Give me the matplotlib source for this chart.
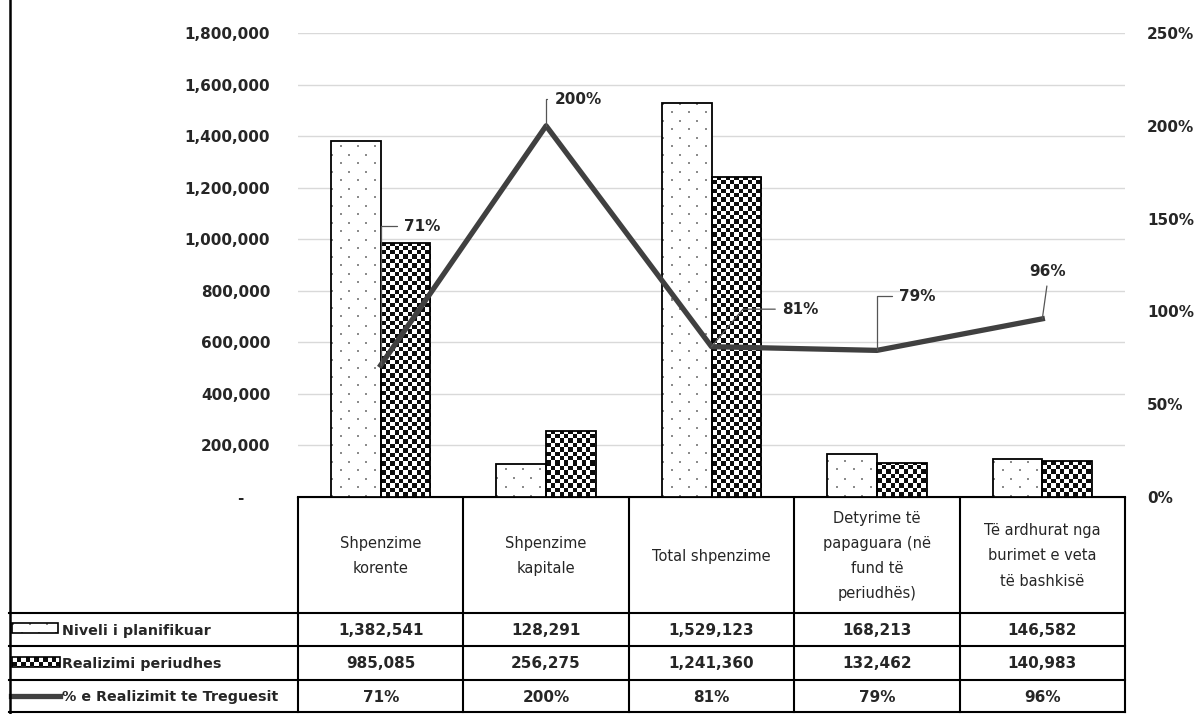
import numpy as np
import matplotlib
matplotlib.use('Agg')
import matplotlib.pyplot as plt
from matplotlib.patches import Rectangle
from matplotlib.lines import Line2D
from matplotlib.ticker import FuncFormatter, MultipleLocator

plt.rcParams['font.family'] = ['DejaVu Sans']

categories = ['Shpenzime\nkorente', 'Shpenzime\nkapitale', 'Total shpenzime',
              'Detyrime të\npapaguara (në\nfund të\nperiudhës)',
              'Të ardhurat nga\nburimet e veta\ntë bashkisë']
planned = [1382541, 128291, 1529123, 168213, 146582]
realized = [985085, 256275, 1241360, 132462, 140983]
pct = [0.71, 2.00, 0.81, 0.79, 0.96]
series_names = ['Niveli i planifikuar', 'Realizimi periudhes', '% e Realizimit te Treguesit']

TXT = '#262626'
LINE_C = '#404040'

fig = plt.figure(figsize=(12, 7.14), dpi=100)
W, H = 1200, 714
ax_l, ax_r, ax_b, ax_t = 298, 1125, 497, 33
ax = fig.add_axes([ax_l / W, 1 - ax_b / H, (ax_r - ax_l) / W, (ax_b - ax_t) / H])
n = len(categories)
x = np.arange(n)
ax.set_xlim(-0.5, n - 0.5)
ax.set_ylim(0, 1800000)


def pattern_fill(axis, patch, kind):
    # fill a rectangle with an excel-like pattern (image clipped to the patch)
    x0, y0 = patch.get_x(), patch.get_y()
    w, h = patch.get_width(), patch.get_height()
    p0, p1 = axis.transData.transform([(x0, y0), (x0 + w, y0 + h)])
    wpx = max(int(round(abs(p1[0] - p0[0]))), 1)
    hpx = max(int(round(abs(p1[1] - p0[1]))), 1)
    ii, jj = np.indices((hpx, wpx))
    if kind == 'checker':
        cell = 4.4
        arr = (((ii / cell).astype(int) + (jj / cell).astype(int)) % 2).astype(float)
        arr = 1 - arr * 0.95
    else:
        arr = np.ones((hpx, wpx))
        dots = ((ii % 17 < 2) & (jj % 17 < 2)) | (((ii + 8) % 17 < 2) & ((jj + 8) % 17 < 2))
        arr[dots] = 0.55
        arr = 1 - arr
        arr = 1 - arr
    im = axis.imshow(arr, extent=(x0, x0 + w, y0, y0 + h), origin='lower', cmap='gray',
                     vmin=0, vmax=1, interpolation='nearest', aspect='auto',
                     zorder=patch.get_zorder() - 0.1)
    im.set_clip_path(patch)
    return im


bw = 0.30
bars1 = ax.bar(x - bw / 2, planned, bw, facecolor='none', edgecolor='black', linewidth=1.3, zorder=3)
bars2 = ax.bar(x + bw / 2, realized, bw, facecolor='none', edgecolor='black', linewidth=1.3, zorder=3)
for b in bars1:
    pattern_fill(ax, b, 'dots')
for b in bars2:
    pattern_fill(ax, b, 'checker')
ax.set_xlim(-0.5, n - 0.5)
ax.set_ylim(0, 1800000)

ax.yaxis.set_major_locator(MultipleLocator(200000))
ax.yaxis.set_major_formatter(FuncFormatter(lambda v, p: '-     ' if v == 0 else f'{v:,.0f}'))
ax.grid(axis='y', color='#d9d9d9', linewidth=1)
ax.set_axisbelow(True)
ax.set_xticks([])
for s in ['top', 'right', 'left']:
    ax.spines[s].set_visible(False)
ax.spines['bottom'].set_linewidth(1.5)
ax.tick_params(axis='y', length=0, pad=20, labelsize=11, labelcolor=TXT)
for t in ax.get_yticklabels():
    t.set_fontweight('bold')

ax2 = ax.twinx()
ax2.set_ylim(0, 2.5)
ax2.yaxis.set_major_locator(MultipleLocator(0.5))
ax2.yaxis.set_major_formatter(FuncFormatter(lambda v, p: f'{v * 100:.0f}%'))
ax2.tick_params(axis='y', length=0, pad=16, labelsize=11, labelcolor=TXT)
for t in ax2.get_yticklabels():
    t.set_fontweight('bold')
for s in ax2.spines.values():
    s.set_visible(False)
ax2.plot(x, pct, color=LINE_C, linewidth=3.8, solid_joinstyle='round', zorder=5)

# data labels with leader lines (offsets in points)
offsets = [(30, 100), (23, 19), (64, 27), (29, 39), (4, 34)]
conns = ['angle,angleA=0,angleB=90', 'angle,angleA=0,angleB=90', 'angle,angleA=0,angleB=50',
         'angle,angleA=0,angleB=90', 'arc3']
relp = [(0, 0.5), (0, 0.5), (0, 0.5), (0, 0.5), (0.5, 0)]
for i in range(n):
    ax2.annotate(f'{pct[i] * 100:.0f}%', (x[i], pct[i]), xytext=offsets[i], textcoords='offset points',
                 ha='center', va='center', fontsize=11, fontweight='bold', color=TXT,
                 arrowprops=dict(arrowstyle='-', color='#555555', lw=0.9, shrinkA=3, shrinkB=0,
                                 connectionstyle=conns[i], relpos=relp[i]), zorder=6)

# data table below the chart
px_per_cat = (ax_r - ax_l) / n
tab_h = 217
tab = fig.add_axes([0, 0, 1, tab_h / H])
tab.set_xlim(-0.5 - ax_l / px_per_cat, n - 0.5 + (W - ax_r) / px_per_cat)
tab.set_ylim(tab_h, 0)
tab.axis('off')


def px2x(px):
    return -0.5 + (px - ax_l) / px_per_cat


left_x = px2x(9)
rows_y = [0, 116, 149, 183, 215]
lk = dict(color='black', linewidth=1.5, solid_capstyle='projecting')
tab.plot([-0.5, n - 0.5], [rows_y[0], rows_y[0]], **lk)
for yy in rows_y[1:]:
    tab.plot([left_x, n - 0.5], [yy, yy], **lk)
for i in range(n + 1):
    tab.plot([i - 0.5, i - 0.5], [rows_y[0], rows_y[-1]], **lk)

for i, c in enumerate(categories):
    tab.text(x[i], (rows_y[0] + rows_y[1]) / 2 + 1, c, ha='center', va='center', fontsize=10.5,
             color=TXT, linespacing=1.85)

row_vals = [[f'{v:,.0f}' for v in planned], [f'{v:,.0f}' for v in realized],
            [f'{v * 100:.0f}%' for v in pct]]
for r in range(3):
    yc = (rows_y[r + 1] + rows_y[r + 2]) / 2
    for i in range(n):
        tab.text(x[i], yc + 1, row_vals[r][i], ha='center', va='center', fontsize=11,
                 fontweight='bold', color=TXT)
    tab.text(px2x(62), yc + 1, series_names[r], ha='left', va='center', fontsize=10.3,
             fontweight='bold', color=TXT)

# legend keys in the row labels
sw1 = Rectangle((px2x(12), 126), px2x(58) - px2x(12), 10, facecolor='none', edgecolor='black',
                linewidth=1.2, zorder=3)
tab.add_patch(sw1)
pattern_fill(tab, sw1, 'dots')
sw2 = Rectangle((px2x(12), 160), px2x(60) - px2x(12), 10, facecolor='none', edgecolor='black',
                linewidth=1.2, zorder=3)
tab.add_patch(sw2)
pattern_fill(tab, sw2, 'checker')
tab.plot([px2x(11), px2x(60)], [199, 199], color=LINE_C, linewidth=3.8)
tab.set_xlim(-0.5 - ax_l / px_per_cat, n - 0.5 + (W - ax_r) / px_per_cat)
tab.set_ylim(tab_h, 0)

# chart area border on the left
fig.add_artist(Line2D([10 / W, 10 / W], [0, 1], color='black', linewidth=1.8))

fig.savefig('out.png', dpi=100)
